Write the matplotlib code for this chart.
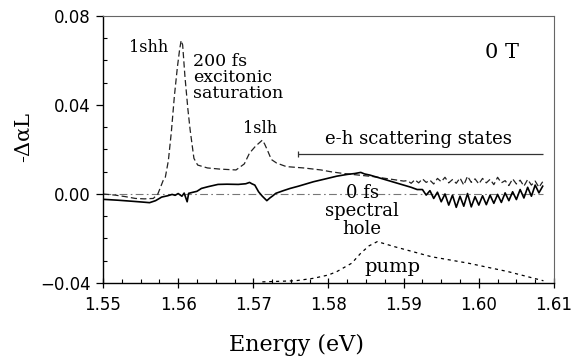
import numpy as np
import matplotlib
matplotlib.use("Agg")
import matplotlib.pyplot as plt
from matplotlib.ticker import MultipleLocator, FuncFormatter

# 200 fs trace (excitonic saturation), dashed
e_200fs = [1.5500, 1.5516, 1.5530, 1.5543, 1.5555, 1.5567, 1.5573, 1.5580, 1.5583,
           1.5587, 1.5591, 1.5595, 1.5599, 1.5602, 1.5604, 1.5606, 1.5609, 1.5613,
           1.5616, 1.5621, 1.5626, 1.5639, 1.5655, 1.5677, 1.5688, 1.5695, 1.5703,
           1.5708, 1.5712, 1.5715, 1.5719, 1.5724, 1.5731, 1.5744, 1.5767, 1.5790,
           1.5803, 1.5820, 1.5840, 1.5860, 1.5880, 1.5900,
           1.5905, 1.5910, 1.5915, 1.5920, 1.5925, 1.5930, 1.5935, 1.5940, 1.5945,
           1.5950, 1.5955, 1.5960, 1.5965, 1.5970, 1.5975, 1.5980, 1.5985, 1.5990,
           1.5995, 1.6000, 1.6005, 1.6010, 1.6015, 1.6020, 1.6025, 1.6030, 1.6035,
           1.6040, 1.6045, 1.6050, 1.6055, 1.6060, 1.6065, 1.6070, 1.6075, 1.6080,
           1.6085]
a_200fs = [0.0000, -0.0005, -0.0012, -0.0020, -0.0022, -0.0020, 0.0000, 0.0060, 0.0076,
           0.0150, 0.0280, 0.0440, 0.0570, 0.0650, 0.0690, 0.0670, 0.0530, 0.0380,
           0.0287, 0.0160, 0.0130, 0.0117, 0.0112, 0.0108, 0.0135, 0.0184, 0.0215,
           0.0230, 0.0242, 0.0225, 0.0195, 0.0155, 0.0139, 0.0123, 0.0117, 0.0108,
           0.0100, 0.0092, 0.0085, 0.0078, 0.0068, 0.0058,
           0.0060, 0.0048, 0.0064, 0.0050, 0.0068, 0.0052, 0.0062, 0.0045, 0.0070,
           0.0055, 0.0075, 0.0050, 0.0065, 0.0048, 0.0072, 0.0040, 0.0080, 0.0052,
           0.0068, 0.0045, 0.0070, 0.0050, 0.0066, 0.0042, 0.0075, 0.0050, 0.0060,
           0.0038, 0.0068, 0.0045, 0.0062, 0.0035, 0.0065, 0.0040, 0.0058, 0.0030,
           0.0055]

# 0 fs trace (spectral hole), solid
e_0fs = [1.5500, 1.5520, 1.5540, 1.5555, 1.5562, 1.5570, 1.5578, 1.5586, 1.5592,
         1.5596, 1.5600, 1.5605, 1.5608, 1.5612, 1.5614, 1.5620, 1.5625, 1.5631,
         1.5640, 1.5653, 1.5665, 1.5680, 1.5690, 1.5695, 1.5698, 1.5702, 1.5707,
         1.5712, 1.5718, 1.5722, 1.5726, 1.5730, 1.5740, 1.5749, 1.5760, 1.5770,
         1.5780, 1.5795, 1.5811, 1.5825, 1.5835, 1.5843, 1.5848, 1.5855, 1.5870,
         1.5885, 1.5900, 1.5910, 1.5918,
         1.5925, 1.5930, 1.5935, 1.5940, 1.5945, 1.5950, 1.5955, 1.5960, 1.5965,
         1.5970, 1.5975, 1.5980, 1.5985, 1.5990, 1.5995, 1.6000, 1.6005, 1.6010,
         1.6015, 1.6020, 1.6025, 1.6030, 1.6035, 1.6040, 1.6045, 1.6050, 1.6055,
         1.6060, 1.6065, 1.6070, 1.6075, 1.6080, 1.6085]
a_0fs = [-0.0024, -0.0028, -0.0033, -0.0037, -0.0039, -0.0030, -0.0014, -0.0008, -0.0002,
         -0.0006, 0.0002, -0.0010, 0.0004, -0.0035, 0.0003, 0.0008, 0.0012, 0.0025,
         0.0033, 0.0043, 0.0044, 0.0043, 0.0046, 0.0052, 0.0046, 0.0040, 0.0010,
         -0.0010, -0.0030, -0.0018, -0.0008, 0.0003, 0.0015, 0.0025, 0.0035, 0.0045,
         0.0055, 0.0067, 0.0080, 0.0088, 0.0092, 0.0097, 0.0090, 0.0085, 0.0070,
         0.0055, 0.0040, 0.0030, 0.0020,
         0.0020, -0.0005, 0.0015, -0.0020, 0.0008, -0.0035, 0.0000, -0.0050, -0.0005,
         -0.0060, -0.0010, -0.0055, 0.0002, -0.0058, -0.0012, -0.0050, -0.0008, -0.0048,
         -0.0005, -0.0042, -0.0002, -0.0038, 0.0005, -0.0030, 0.0010, -0.0025, 0.0020,
         -0.0018, 0.0030, -0.0010, 0.0040, 0.0005, 0.0035]

# pump spectrum (offset), dotted
e_pump = [1.5712, 1.5756, 1.5780, 1.5800, 1.5811, 1.5831, 1.5843, 1.5854, 1.5865,
          1.5888, 1.5937, 1.5986, 1.6039, 1.6086]
a_pump = [-0.0395, -0.0390, -0.0379, -0.0364, -0.0349, -0.0311, -0.0266, -0.0233, -0.0214,
          -0.0237, -0.0282, -0.0311, -0.0349, -0.0390]

# zero line and e-h scattering states range
zero_range = [1.5500, 1.6085]
eh_range = [1.5760, 1.6085]
eh_level = 0.018

serif = "DejaVu Serif"


def fmt2(v, pos):
    # two decimals, real minus sign
    s = "%.2f" % v
    if s == "-0.00":
        s = "0.00"
    return s.replace("-", "\u2212")


fig = plt.figure(figsize=(5.74, 3.56), dpi=100)
ax = fig.add_axes([0.1794, 0.2051, 0.7857, 0.75])

ax.plot(zero_range, [0, 0], color="#777777", lw=0.8, ls=(0, (7, 3, 1.5, 3)))
ax.plot(e_pump, a_pump, color="black", lw=0.9, ls=(0, (2.5, 3)))
ax.plot(e_200fs, a_200fs, color="#222222", lw=0.9, ls=(0, (5, 2.5)))
ax.plot(e_0fs, a_0fs, color="black", lw=1.2)

ax.hlines(eh_level, eh_range[0], eh_range[1], color="#333333", lw=0.9)
ax.vlines(eh_range[0], eh_level - 0.0015, eh_level + 0.0015, color="#333333", lw=0.9)

ax.set_xlim(1.55, 1.61)
ax.set_ylim(-0.04, 0.08)
ax.xaxis.set_major_locator(MultipleLocator(0.01))
ax.xaxis.set_minor_locator(MultipleLocator(0.0025))
ax.yaxis.set_major_locator(MultipleLocator(0.04))
ax.yaxis.set_minor_locator(MultipleLocator(0.01))
ax.xaxis.set_major_formatter(FuncFormatter(fmt2))
ax.yaxis.set_major_formatter(FuncFormatter(fmt2))

ax.tick_params(axis="x", which="major", direction="inout", length=7, width=0.9,
               labelsize=12, pad=6)
ax.tick_params(axis="y", which="major", direction="out", length=5, width=0.9,
               labelsize=12, pad=4)
ax.tick_params(which="minor", direction="in", length=3, width=0.8)
for s in ["top", "right"]:
    ax.spines[s].set_color("#666666")
    ax.spines[s].set_linewidth(0.8)
for s in ["left", "bottom"]:
    ax.spines[s].set_linewidth(1.0)

ax.set_xlabel("Energy (eV)", fontsize=16, family=serif)
ax.xaxis.set_label_coords(0.43, -0.255)
ax.xaxis.label.set_va("baseline")
ax.set_ylabel("-\u0394\u03b1L", fontsize=15, family=serif)
ax.yaxis.set_label_coords(-0.155, 0.547)

ax.text(1.5561, 0.0639, "1shh", fontsize=11.5, family=serif, ha="center", va="baseline")
ax.text(1.5620, 0.0430, "200 fs\nexcitonic\nsaturation", fontsize=12.5, family=serif,
        ha="left", va="baseline", linespacing=0.95)
ax.text(1.5709, 0.0272, "1slh", fontsize=11.5, family=serif, ha="center", va="baseline")
ax.text(1.6053, 0.0609, "0 T", fontsize=15, family=serif, ha="right", va="baseline")
ax.text(1.5920, 0.0225, "e-h scattering states", fontsize=13, family=serif,
        ha="center", va="baseline")
ax.text(1.5845, -0.0180, "0 fs\nspectral\nhole", fontsize=13, family=serif,
        ha="center", va="baseline", linespacing=1.0)
ax.text(1.5885, -0.0350, "pump", fontsize=14, family=serif, ha="center", va="baseline")

fig.savefig("out.png", dpi=100)
